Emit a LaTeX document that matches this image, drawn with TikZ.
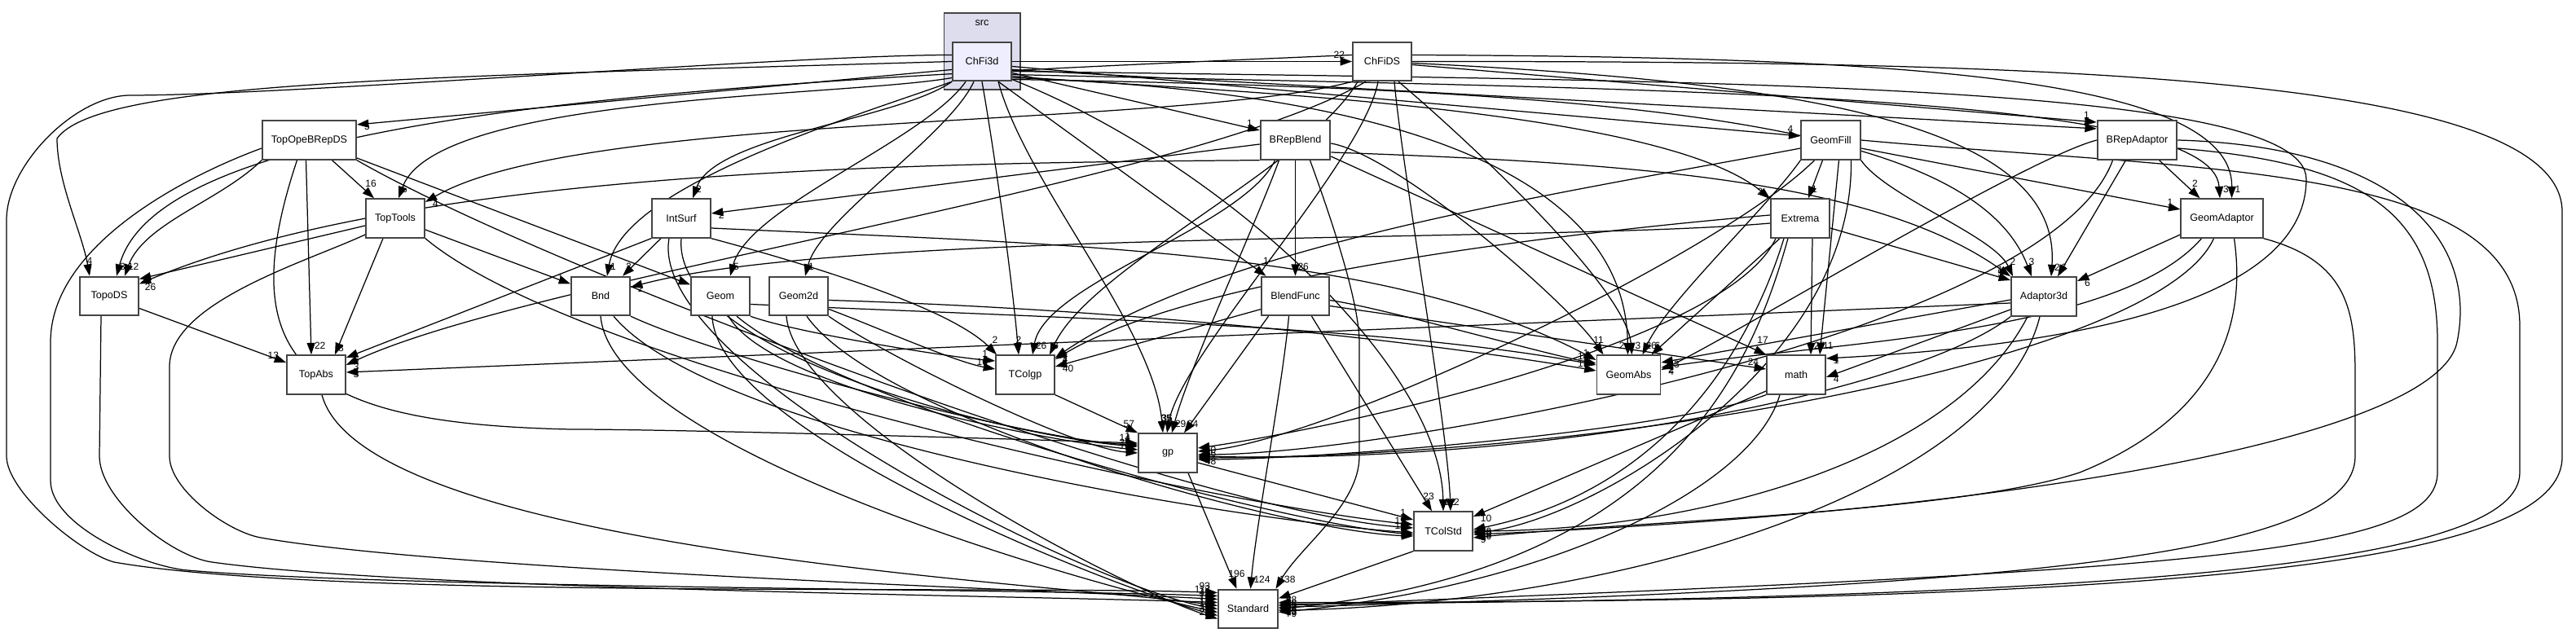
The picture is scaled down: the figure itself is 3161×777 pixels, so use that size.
\documentclass[tikz,border=0pt]{standalone}
\usepackage{fontspec}
\setmainfont{Liberation Sans}
\usetikzlibrary{arrows.meta}
\pgfdeclarelayer{bglayer}
\pgfdeclarelayer{edgelayer}
\pgfsetlayers{bglayer,edgelayer,main}
\definecolor{bord}{HTML}{444444}
\definecolor{clfill}{HTML}{DDDDEE}
\definecolor{mainfill}{HTML}{EEEEFF}
\tikzset{
  dirbox/.style={draw=bord, line width=0.45pt, fill=white, minimum width=18pt, minimum height=11.9pt, inner xsep=2.75pt, font=\fontsize{3.15}{3.8}\selectfont},
  dep/.style={line width=0.31pt, draw=black, -{Triangle[length=3.6pt,width=2.5pt]}},
  lab/.style={font=\fontsize{3}{3}\selectfont, inner sep=0.1pt},
  lt/.style={lab, anchor=south west, shift={(3,6)}},
  ltl/.style={lab, anchor=south east, shift={(-3,6)}},
  lc/.style={lab, anchor=south, shift={(0,13)}},
  lw/.style={lab, anchor=south east, shift={(-8,3)}},
  le/.style={lab, anchor=north west, shift={(8,3)}},
}
\begin{document}
\begin{tikzpicture}[x=0.25pt,y=0.25pt]
\useasboundingbox (0,0) rectangle (3161,-777);
\begin{pgfonlayer}{bglayer}
\fill[white] (0,0) rectangle (3161,-777);
\draw[draw=bord, fill=clfill, line width=0.45pt] (1158.5,-15.7) rectangle (1251.8,-110);
\end{pgfonlayer}
\node[font=\fontsize{3.15}{3.8}\selectfont] (srclab) at (1205,-28) {src};
\node[dirbox, fill=mainfill] (ChFi3d) at (1205,-75.5) {ChFi3d};
\node[dirbox] (ChFiDS) at (1696,-75.5) {ChFiDS};
\node[dirbox] (TopOpeBRepDS) at (379.5,-172) {TopOpeBRepDS};
\node[dirbox] (BRepBlend) at (1589.5,-172) {BRepBlend};
\node[dirbox] (GeomFill) at (2246.5,-172) {GeomFill};
\node[dirbox] (BRepAdaptor) at (2622.5,-172) {BRepAdaptor};
\node[dirbox] (TopTools) at (485,-268) {TopTools};
\node[dirbox] (IntSurf) at (836,-268) {IntSurf};
\node[dirbox] (Extrema) at (2209,-268) {Extrema};
\node[dirbox] (GeomAdaptor) at (2726.5,-268) {GeomAdaptor};
\node[dirbox] (TopoDS) at (134,-363.5) {TopoDS};
\node[dirbox] (Bnd) at (737,-363.5) {Bnd};
\node[dirbox] (Geom) at (884,-363.5) {Geom};
\node[dirbox] (Geom2d) at (980,-363.5) {Geom2d};
\node[dirbox] (BlendFunc) at (1589.5,-363.5) {BlendFunc};
\node[dirbox] (Adaptor3d) at (2508,-364) {Adaptor3d};
\node[dirbox] (TopAbs) at (388,-460) {TopAbs};
\node[dirbox] (TColgp) at (1258,-460) {TColgp};
\node[dirbox] (GeomAbs) at (1998.5,-460) {GeomAbs};
\node[dirbox] (math) at (2204,-460) {math};
\node[dirbox] (gp) at (1433,-556) {gp};
\node[dirbox] (TColStd) at (1771,-652) {TColStd};
\node[dirbox] (Standard) at (1531.5,-747.5) {Standard};

\begin{pgfonlayer}{edgelayer}
% ---- ChFi3d
\draw[dep] (ChFi3d.east) -- (ChFiDS.west) node[lw]{22};
\draw[dep] ([shift={(0,-10)}]ChFi3d.west) -- ([shift={(0,19)}]TopOpeBRepDS.east) node[le]{5};
\draw[dep] ([shift={(0,-14)}]ChFi3d.east) -- ([shift={(0,12)}]BRepBlend.west) node[lw]{1};
\draw[dep] ([shift={(0,-6)}]ChFi3d.east) -- ([shift={(0,5)}]GeomFill.west) node[lw]{4};
\draw[dep] ([shift={(0,-10)}]ChFi3d.east) -- ([shift={(0,14)}]BRepAdaptor.west) node[lw]{3};
\draw[dep] ([shift={(0,-20)}]ChFi3d.west) to[out=190,in=70,looseness=0.5] ([shift={(4,0)}]TopTools.north) node[lt]{6};
\draw[dep] (ChFi3d.south west) to[out=215,in=70,looseness=0.6] ([shift={(14,0)}]IntSurf.north) node[lt]{2};
\draw[dep] ([shift={(0,-18)}]ChFi3d.east) to[out=-5,in=140,looseness=0.5] ([shift={(0,24)}]Extrema.west) node[lw]{2};
\draw[dep] ([shift={(0,-16)}]ChFi3d.east) .. controls (2000,-110) and (2715,-110) .. ([shift={(-2.5,0)}]GeomAdaptor.north) node[lt]{3};
\draw[dep] (ChFi3d.west) .. controls (500,-95) and (120,-100) .. (70,-170) to[out=-90,in=100,looseness=0.8] ([shift={(-24,0)}]TopoDS.north) node[lc]{4};
\draw[dep] (ChFi3d.south west) to[out=200,in=80,looseness=0.6] ([shift={(8,0)}]Bnd.north) node[lt]{1};
\draw[dep] ([shift={(-20,0)}]ChFi3d.south) to[out=235,in=75,looseness=0.6] ([shift={(12,0)}]Geom.north) node[lt]{5};
\draw[dep] ([shift={(-10,0)}]ChFi3d.south) to[out=245,in=75,looseness=0.6] ([shift={(8,0)}]Geom2d.north) node[lt]{1};
\draw[dep] ([shift={(20,0)}]ChFi3d.south) -- ([shift={(-36,0)}]BlendFunc.north) node[lc]{1};
\draw[dep] ([shift={(0,-22)}]ChFi3d.east) .. controls (2000,-110) and (2420,-150) .. ([shift={(-15,0)}]Adaptor3d.north) node[lc]{3};
\draw[dep] (ChFi3d.south) to[out=-80,in=95,looseness=0.7] ([shift={(-8,0)}]TColgp.north) node[lc]{2};
\draw[dep] ([shift={(0,-20)}]ChFi3d.east) .. controls (1800,-115) and (1995,-250) .. ([shift={(-1,0)}]GeomAbs.north) node[ltl]{2};
\draw[dep] ([shift={(0,-12)}]ChFi3d.east) .. controls (2100,-100) and (2830,-100) .. (2830,-220) .. controls (2830,-400) and (2420,-430) .. ([shift={(0,20)}]math.east) node[le]{1};
\draw[dep] ([shift={(20,0)}]ChFi3d.south) to[out=-75,in=95,looseness=0.7] ([shift={(-6,0)}]gp.north) node[lc,shift={(4,0)}]{35};
\draw[dep] ([shift={(0,-22)}]ChFi3d.east) .. controls (1500,-200) and (1768,-450) .. (TColStd.north) node[lt,shift={(-2,0)}]{22};
\draw[dep] ([shift={(0,8)}]ChFi3d.west) to[out=180,in=0,looseness=0.5] (160,-117) to[out=180,in=90,looseness=0.8] (8,-270) -- (8,-560) to[out=-90,in=165,looseness=0.6] (140,-690) to[out=-10,in=178,looseness=0.5] ([shift={(0,20)}]Standard.west) node[lw]{93};
% ---- ChFiDS
\draw[dep] ([shift={(0,-4)}]ChFiDS.east) -- ([shift={(0,22)}]BRepAdaptor.west) node[lw]{1};
\draw[dep] ([shift={(0,8)}]ChFiDS.east) .. controls (2300,-70) and (2740,-90) .. ([shift={(12,0)}]GeomAdaptor.north) node[lt]{1};
\draw[dep] ([shift={(0,-2)}]ChFiDS.east) .. controls (2200,-100) and (2530,-150) .. ([shift={(9,0)}]Adaptor3d.north) node[lt]{2};
\draw[dep] (ChFiDS.south west) to[out=195,in=30,looseness=0.5] ([shift={(0,20)}]TopTools.east) node[le]{4};
\draw[dep] ([shift={(0,8)}]ChFiDS.west) .. controls (900,-100) and (200,-130) .. ([shift={(9,0)}]TopoDS.north) node[lt]{3};
\draw[dep] ([shift={(-20,0)}]ChFiDS.south) to[out=210,in=25,looseness=0.5] ([shift={(0,12)}]TopAbs.east) node[le]{3};
\draw[dep] ([shift={(-30,0)}]ChFiDS.south) to[out=240,in=65,looseness=0.6] ([shift={(30,0)}]TColgp.north) node[lt]{3};
\draw[dep] ([shift={(20,0)}]ChFiDS.south) to[out=-40,in=95,looseness=0.5] ([shift={(4,0)}]GeomAbs.north) node[lt]{3};
\draw[dep] ([shift={(-5,0)}]ChFiDS.south) to[out=-100,in=80,looseness=0.5] ([shift={(-1,0)}]gp.north) node[lc]{36};
\draw[dep] ([shift={(15,0)}]ChFiDS.south) to[out=-85,in=92,looseness=0.5] ([shift={(9,0)}]TColStd.north) node[lt]{2};
\draw[dep] (ChFiDS.east) .. controls (2500,-75) and (3144,-90) .. (3144,-260) -- (3144,-560) .. controls (3146,-690) and (2700,-740) .. ([shift={(0,8)}]Standard.east) node[le]{26};
% ---- TopOpeBRepDS
\draw[dep] ([shift={(28,0)}]TopOpeBRepDS.south) -- ([shift={(-26,0)}]TopTools.north) node[lc,shift={(-4,0)}]{16};
\draw[dep] (TopOpeBRepDS.south west) to[out=225,in=70,looseness=0.8] ([shift={(19,0)}]TopoDS.north) node[lt]{12};
\draw[dep] ([shift={(0,-22)}]TopOpeBRepDS.east) -- ([shift={(0,14)}]Geom.west) node[lw]{1};
\draw[dep] ([shift={(-4,0)}]TopOpeBRepDS.south) -- ([shift={(-6,0)}]TopAbs.north) node[lt]{22};
\draw[dep] ([shift={(-15,0)}]TopOpeBRepDS.south) .. controls (280,-450) and (380,-520) .. (700,-527) to[out=0,in=178,looseness=0.5] ([shift={(0,12)}]gp.west) node[lw]{1};
\draw[dep] (TopOpeBRepDS.south east) to[out=-30,in=176,looseness=0.5] ([shift={(0,4)}]TColStd.west) node[lw]{19};
\draw[dep] ([shift={(0,-10)}]TopOpeBRepDS.west) .. controls (231,-215) and (62,-300) .. (62,-420) -- (62,-590) to[out=-90,in=175,looseness=0.7] (230,-700) to[out=-5,in=178,looseness=0.5] ([shift={(0,16)}]Standard.west) node[lw]{117};
% ---- TopTools
\draw[dep] ([shift={(0,-9)}]TopTools.west) -- ([shift={(0,21)}]TopoDS.east) node[lab,anchor=west,shift={(6,0)}]{5};
\draw[dep] ([shift={(0,-14)}]TopTools.east) -- ([shift={(0,15)}]Bnd.west) node[lw]{1};
\draw[dep] ([shift={(-15,0)}]TopTools.south) -- ([shift={(23,0)}]TopAbs.north) node[lt,shift={(0,-3)}]{8};
\draw[dep] (TopTools.south east) to[out=-40,in=174,looseness=0.5] ([shift={(0,8)}]TColStd.west) node[lw]{3};
\draw[dep] ([shift={(0,-20)}]TopTools.west) to[out=205,in=90,looseness=0.7] (208,-450) -- (208,-560) to[out=-90,in=170,looseness=0.7] (320,-660) to[out=-10,in=177,looseness=0.5] ([shift={(0,12)}]Standard.west) node[lw]{45};
% ---- TopoDS
\draw[dep] ([shift={(0,-15)}]TopoDS.east) -- ([shift={(0,15)}]TopAbs.west) node[lw]{13};
\draw[dep] ([shift={(-10,0)}]TopoDS.south) -- (122,-560) to[out=-90,in=172,looseness=0.7] (260,-690) to[out=-8,in=178,looseness=0.5] ([shift={(0,8)}]Standard.west) node[lw]{16};
% ---- TopAbs
\draw[dep] ([shift={(7,0)}]TopAbs.south) to[out=-75,in=172,looseness=0.45] ([shift={(0,4)}]Standard.west) node[lw]{13};
% ---- IntSurf
\draw[dep] ([shift={(-25,0)}]IntSurf.south) -- ([shift={(27,0)}]Bnd.north) node[lt]{2};
\draw[dep] (IntSurf.south west) -- ([shift={(0,21)}]TopAbs.east) node[le]{5};
\draw[dep] (IntSurf.south east) to[out=-15,in=135,looseness=0.6] ([shift={(-35,0)}]TColgp.north) node[lc,shift={(-2,0)}]{2};
\draw[dep] ([shift={(0,-12)}]IntSurf.east) .. controls (1300,-300) and (1700,-305) .. ([shift={(0,18)}]GeomAbs.west) node[lw]{1};
\draw[dep] (IntSurf.south) to[out=-95,in=176,looseness=0.6] ([shift={(0,8)}]gp.west) node[lw]{4};
\draw[dep] ([shift={(-15,0)}]IntSurf.south) to[out=-100,in=170,looseness=0.5] (Standard.west) node[lw]{14};
% ---- Bnd
\draw[dep] (Bnd.south east) to[out=-25,in=178,looseness=0.5] ([shift={(0,10)}]gp.west) node[lw]{14};
\draw[dep] ([shift={(16,0)}]Bnd.south) to[out=-50,in=176,looseness=0.5] ([shift={(0,-2)}]TColStd.west) node[lw]{10};
\draw[dep] (Bnd.south) to[out=-85,in=168,looseness=0.5] ([shift={(0,-4)}]Standard.west) node[lw]{16};
% ---- Geom
\draw[dep] (Geom.south east) to[out=-20,in=175,looseness=0.5] ([shift={(0,17)}]TColgp.west) node[lw]{1};
\draw[dep] ([shift={(0,-10)}]Geom.east) .. controls (1300,-390) and (1700,-400) .. ([shift={(0,12)}]GeomAbs.west) node[lw]{6};
\draw[dep] ([shift={(10,0)}]Geom.south) to[out=-60,in=175,looseness=0.5] ([shift={(0,4)}]gp.west) node[lw]{30};
\draw[dep] ([shift={(20,0)}]Geom.south) to[out=-40,in=175,looseness=0.5] ([shift={(0,-4)}]TColStd.west) node[lw]{8};
\draw[dep] ([shift={(-10,0)}]Geom.south) to[out=-88,in=165,looseness=0.5] ([shift={(0,-8)}]Standard.west) node[lw]{33};
% ---- Geom2d
\draw[dep] ([shift={(0,-16)}]Geom2d.east) to[out=-20,in=170,looseness=0.6] ([shift={(0,7)}]TColgp.west) node[lw]{10};
\draw[dep] ([shift={(0,-5)}]Geom2d.east) .. controls (1400,-380) and (1750,-420) .. ([shift={(0,5)}]GeomAbs.west) node[lw]{17};
\draw[dep] (Geom2d.south east) to[out=-35,in=176,looseness=0.5] (gp.west) node[lw]{10};
\draw[dep] ([shift={(10,0)}]Geom2d.south) to[out=-55,in=178,looseness=0.5] ([shift={(0,-6)}]TColStd.west) node[lw]{6};
\draw[dep] ([shift={(-15,0)}]Geom2d.south) to[out=-85,in=162,looseness=0.5] ([shift={(0,-12)}]Standard.west) node[lw]{23};
% ---- BRepBlend
\draw[dep] ([shift={(0,-5)}]BRepBlend.west) -- ([shift={(0,6)}]IntSurf.east) node[le]{2};
\draw[dep] (BRepBlend.south) -- (BlendFunc.north) node[lt,shift={(-1,0)}]{26};
\draw[dep] ([shift={(-25,0)}]BRepBlend.south) to[out=-115,in=80,looseness=0.6] ([shift={(9,0)}]TColgp.north) node[lt]{26};
\draw[dep] ([shift={(0,-4)}]BRepBlend.east) to[out=-10,in=125,looseness=0.5] ([shift={(-31,0)}]GeomAbs.north) node[lc,shift={(-6,0)}]{11};
\draw[dep] ([shift={(0,-20)}]BRepBlend.east) -- (math.north west) node[lc,shift={(-4,0)}]{17};
\draw[dep] ([shift={(-20,0)}]BRepBlend.south) to[out=-110,in=75,looseness=0.6] ([shift={(5,0)}]gp.north) node[lt]{29};
\draw[dep] ([shift={(0,-15)}]BRepBlend.east) .. controls (2000,-200) and (2300,-220) .. (Adaptor3d.north west) node[lw]{1};
\draw[dep] (BRepBlend.south west) .. controls (1100,-200) and (500,-210) .. ([shift={(0,15)}]TopoDS.east) node[lab,anchor=west,shift={(6,-4)}]{26};
\draw[dep] ([shift={(18,0)}]BRepBlend.south) to[out=-70,in=90,looseness=0.6] (1668,-420) -- (1668,-560) to[out=-90,in=60,looseness=0.8] ([shift={(34,0)}]Standard.north) node[lt]{138};
% ---- BlendFunc
\draw[dep] ([shift={(0,-16)}]BlendFunc.west) -- ([shift={(0,10)}]TColgp.east) node[le]{40};
\draw[dep] ([shift={(0,-5)}]BlendFunc.east) to[out=-8,in=170,looseness=0.5] ([shift={(0,14)}]GeomAbs.west) node[lw]{14};
\draw[dep] ([shift={(0,-12)}]BlendFunc.east) -- ([shift={(0,7)}]math.west) node[lw]{24};
\draw[dep] ([shift={(-33,0)}]BlendFunc.south) -- ([shift={(20,0)}]gp.north) node[lt]{24};
\draw[dep] ([shift={(20,0)}]BlendFunc.south) -- ([shift={(-14,0)}]TColStd.north) node[lc,shift={(-4,0)}]{23};
\draw[dep] ([shift={(-8,0)}]BlendFunc.south) to[out=-95,in=85,looseness=0.6] ([shift={(3,0)}]Standard.north) node[lt]{124};
% ---- GeomFill
\draw[dep] ([shift={(-10,0)}]GeomFill.south) -- ([shift={(10,0)}]Extrema.north) node[lt]{1};
\draw[dep] ([shift={(0,-10)}]GeomFill.east) -- ([shift={(0,11)}]GeomAdaptor.west) node[lw]{1};
\draw[dep] (GeomFill.south east) to[out=-55,in=115,looseness=0.6] ([shift={(-38,0)}]Adaptor3d.north) node[lc]{2};
\draw[dep] ([shift={(0,-10)}]GeomFill.west) .. controls (1900,-240) and (1500,-300) .. ([shift={(0,21)}]TColgp.east) node[le]{4};
\draw[dep] (GeomFill.south west) to[out=235,in=65,looseness=0.6] ([shift={(17,0)}]GeomAbs.north) node[lt]{26};
\draw[dep] ([shift={(10,0)}]GeomFill.south) -- ([shift={(29,0)}]math.north) node[lt]{11};
\draw[dep] ([shift={(-20,0)}]GeomFill.south) to[out=225,in=5,looseness=0.5] ([shift={(0,2)}]gp.east) node[le]{16};
\draw[dep] ([shift={(25,0)}]GeomFill.south) .. controls (2275,-450) and (1950,-640) .. ([shift={(0,-2)}]TColStd.east) node[le]{19};
\draw[dep] (GeomFill.east) .. controls (2700,-210) and (3092,-200) .. (3092,-400) -- (3092,-580) .. controls (3092,-690) and (2650,-735) .. ([shift={(0,6)}]Standard.east) node[le]{35};
% ---- Extrema
\draw[dep] ([shift={(0,-6)}]Extrema.west) to[out=185,in=15,looseness=0.5] ([shift={(0,11)}]Bnd.east) node[le]{2};
\draw[dep] ([shift={(0,-12)}]Extrema.east) -- ([shift={(0,20)}]Adaptor3d.west) node[lw]{5};
\draw[dep] ([shift={(-25,0)}]Extrema.south) -- ([shift={(28,0)}]GeomAbs.north) node[lt]{6};
\draw[dep] ([shift={(15,0)}]Extrema.south) -- ([shift={(18,0)}]math.north) node[lt]{27};
\draw[dep] ([shift={(-30,0)}]Extrema.south) to[out=-115,in=8,looseness=0.5] ([shift={(0,6)}]gp.east) node[le]{40};
\draw[dep] ([shift={(-20,0)}]Extrema.south) .. controls (2150,-420) and (2050,-600) .. ([shift={(0,2)}]TColStd.east) node[le]{20};
\draw[dep] ([shift={(-15,0)}]Extrema.south) .. controls (2150,-450) and (2050,-700) .. (Standard.east) node[le]{79};
\draw[dep] ([shift={(0,4)}]Extrema.west) .. controls (1998,-279) and (1480,-330) .. ([shift={(0,19)}]TColgp.east) node[le]{1};
% ---- BRepAdaptor
\draw[dep] ([shift={(27,0)}]BRepAdaptor.south) -- ([shift={(-27,0)}]GeomAdaptor.north) node[lc,shift={(-6,0)}]{2};
\draw[dep] ([shift={(-14,0)}]BRepAdaptor.south) -- ([shift={(17,0)}]Adaptor3d.north) node[lt]{6};
\draw[dep] (BRepAdaptor.west) to[out=195,in=25,looseness=0.4] ([shift={(0,6)}]GeomAbs.east) node[le]{4};
\draw[dep] ([shift={(-30,0)}]BRepAdaptor.south) to[out=-110,in=0,looseness=0.5] ([shift={(0,-2)}]gp.east) node[le]{8};
\draw[dep] (BRepAdaptor.east) .. controls (2950,-180) and (3040,-300) .. (3015,-420) .. controls (2990,-540) and (2450,-630) .. ([shift={(0,-4)}]TColStd.east) node[le]{10};
\draw[dep] ([shift={(0,-10)}]BRepAdaptor.east) .. controls (2900,-200) and (2991,-260) .. (2991,-420) -- (2991,-580) .. controls (2991,-680) and (2700,-700) .. ([shift={(0,4)}]Standard.east) node[le]{52};
% ---- GeomAdaptor
\draw[dep] ([shift={(0,-20)}]GeomAdaptor.west) -- ([shift={(0,19)}]Adaptor3d.east) node[le]{6};
\draw[dep] ([shift={(-25,0)}]GeomAdaptor.south) .. controls (2600,-410) and (2250,-420) .. ([shift={(0,9)}]GeomAbs.east) node[le]{2};
\draw[dep] ([shift={(-10,0)}]GeomAdaptor.south) .. controls (2650,-440) and (2000,-560) .. ([shift={(0,-6)}]gp.east) node[le]{4};
\draw[dep] ([shift={(15,0)}]GeomAdaptor.south) .. controls (2760,-420) and (2700,-520) .. (2552,-580) .. controls (2400,-630) and (2000,-640) .. ([shift={(0,-8)}]TColStd.east) node[le]{9};
\draw[dep] (GeomAdaptor.south east) .. controls (2880,-320) and (2890,-380) .. (2890,-460) -- (2890,-560) .. controls (2890,-680) and (2500,-720) .. ([shift={(0,2)}]Standard.east) node[le]{24};
% ---- Adaptor3d
\draw[dep] ([shift={(0,-8)}]Adaptor3d.west) -- ([shift={(0,3)}]TopAbs.east) node[le]{3};
\draw[dep] ([shift={(0,-16)}]Adaptor3d.west) -- ([shift={(0,-3)}]math.east) node[le]{4};
\draw[dep] ([shift={(0,-4)}]Adaptor3d.west) -- ([shift={(0,15)}]GeomAbs.east) node[le]{13};
\draw[dep] (Adaptor3d.south west) .. controls (2350,-480) and (1900,-570) .. ([shift={(0,-4)}]gp.east) node[le]{6};
\draw[dep] ([shift={(-20,0)}]Adaptor3d.south) .. controls (2400,-560) and (2100,-650) .. (TColStd.east) node[le]{30};
\draw[dep] ([shift={(-5,0)}]Adaptor3d.south) .. controls (2450,-600) and (2000,-740) .. ([shift={(0,-2)}]Standard.east) node[le]{33};
% ---- math
\draw[dep] (math.south west) to[out=200,in=0,looseness=0.5] ([shift={(0,-8)}]gp.east) node[le]{48};
\draw[dep] ([shift={(0,-20)}]math.west) -- ([shift={(0,18)}]TColStd.east) node[le]{10};
\draw[dep] ([shift={(-20,0)}]math.south) .. controls (2150,-600) and (1900,-720) .. ([shift={(0,-4)}]Standard.east) node[le]{79};
% ---- TColgp, gp, TColStd
\draw[dep] (TColgp.south east) -- (gp.north west) node[ltl]{57};
\draw[dep] ([shift={(0,-12)}]gp.east) -- ([shift={(0,14)}]TColStd.west) node[lw]{1};
\draw[dep] ([shift={(25,0)}]gp.south) -- ([shift={(-14,0)}]Standard.north) node[lc]{196};
\draw[dep] (TColStd.south west) -- ([shift={(0,13)}]Standard.east) node[le]{58};
\end{pgfonlayer}
\end{tikzpicture}
\end{document}
